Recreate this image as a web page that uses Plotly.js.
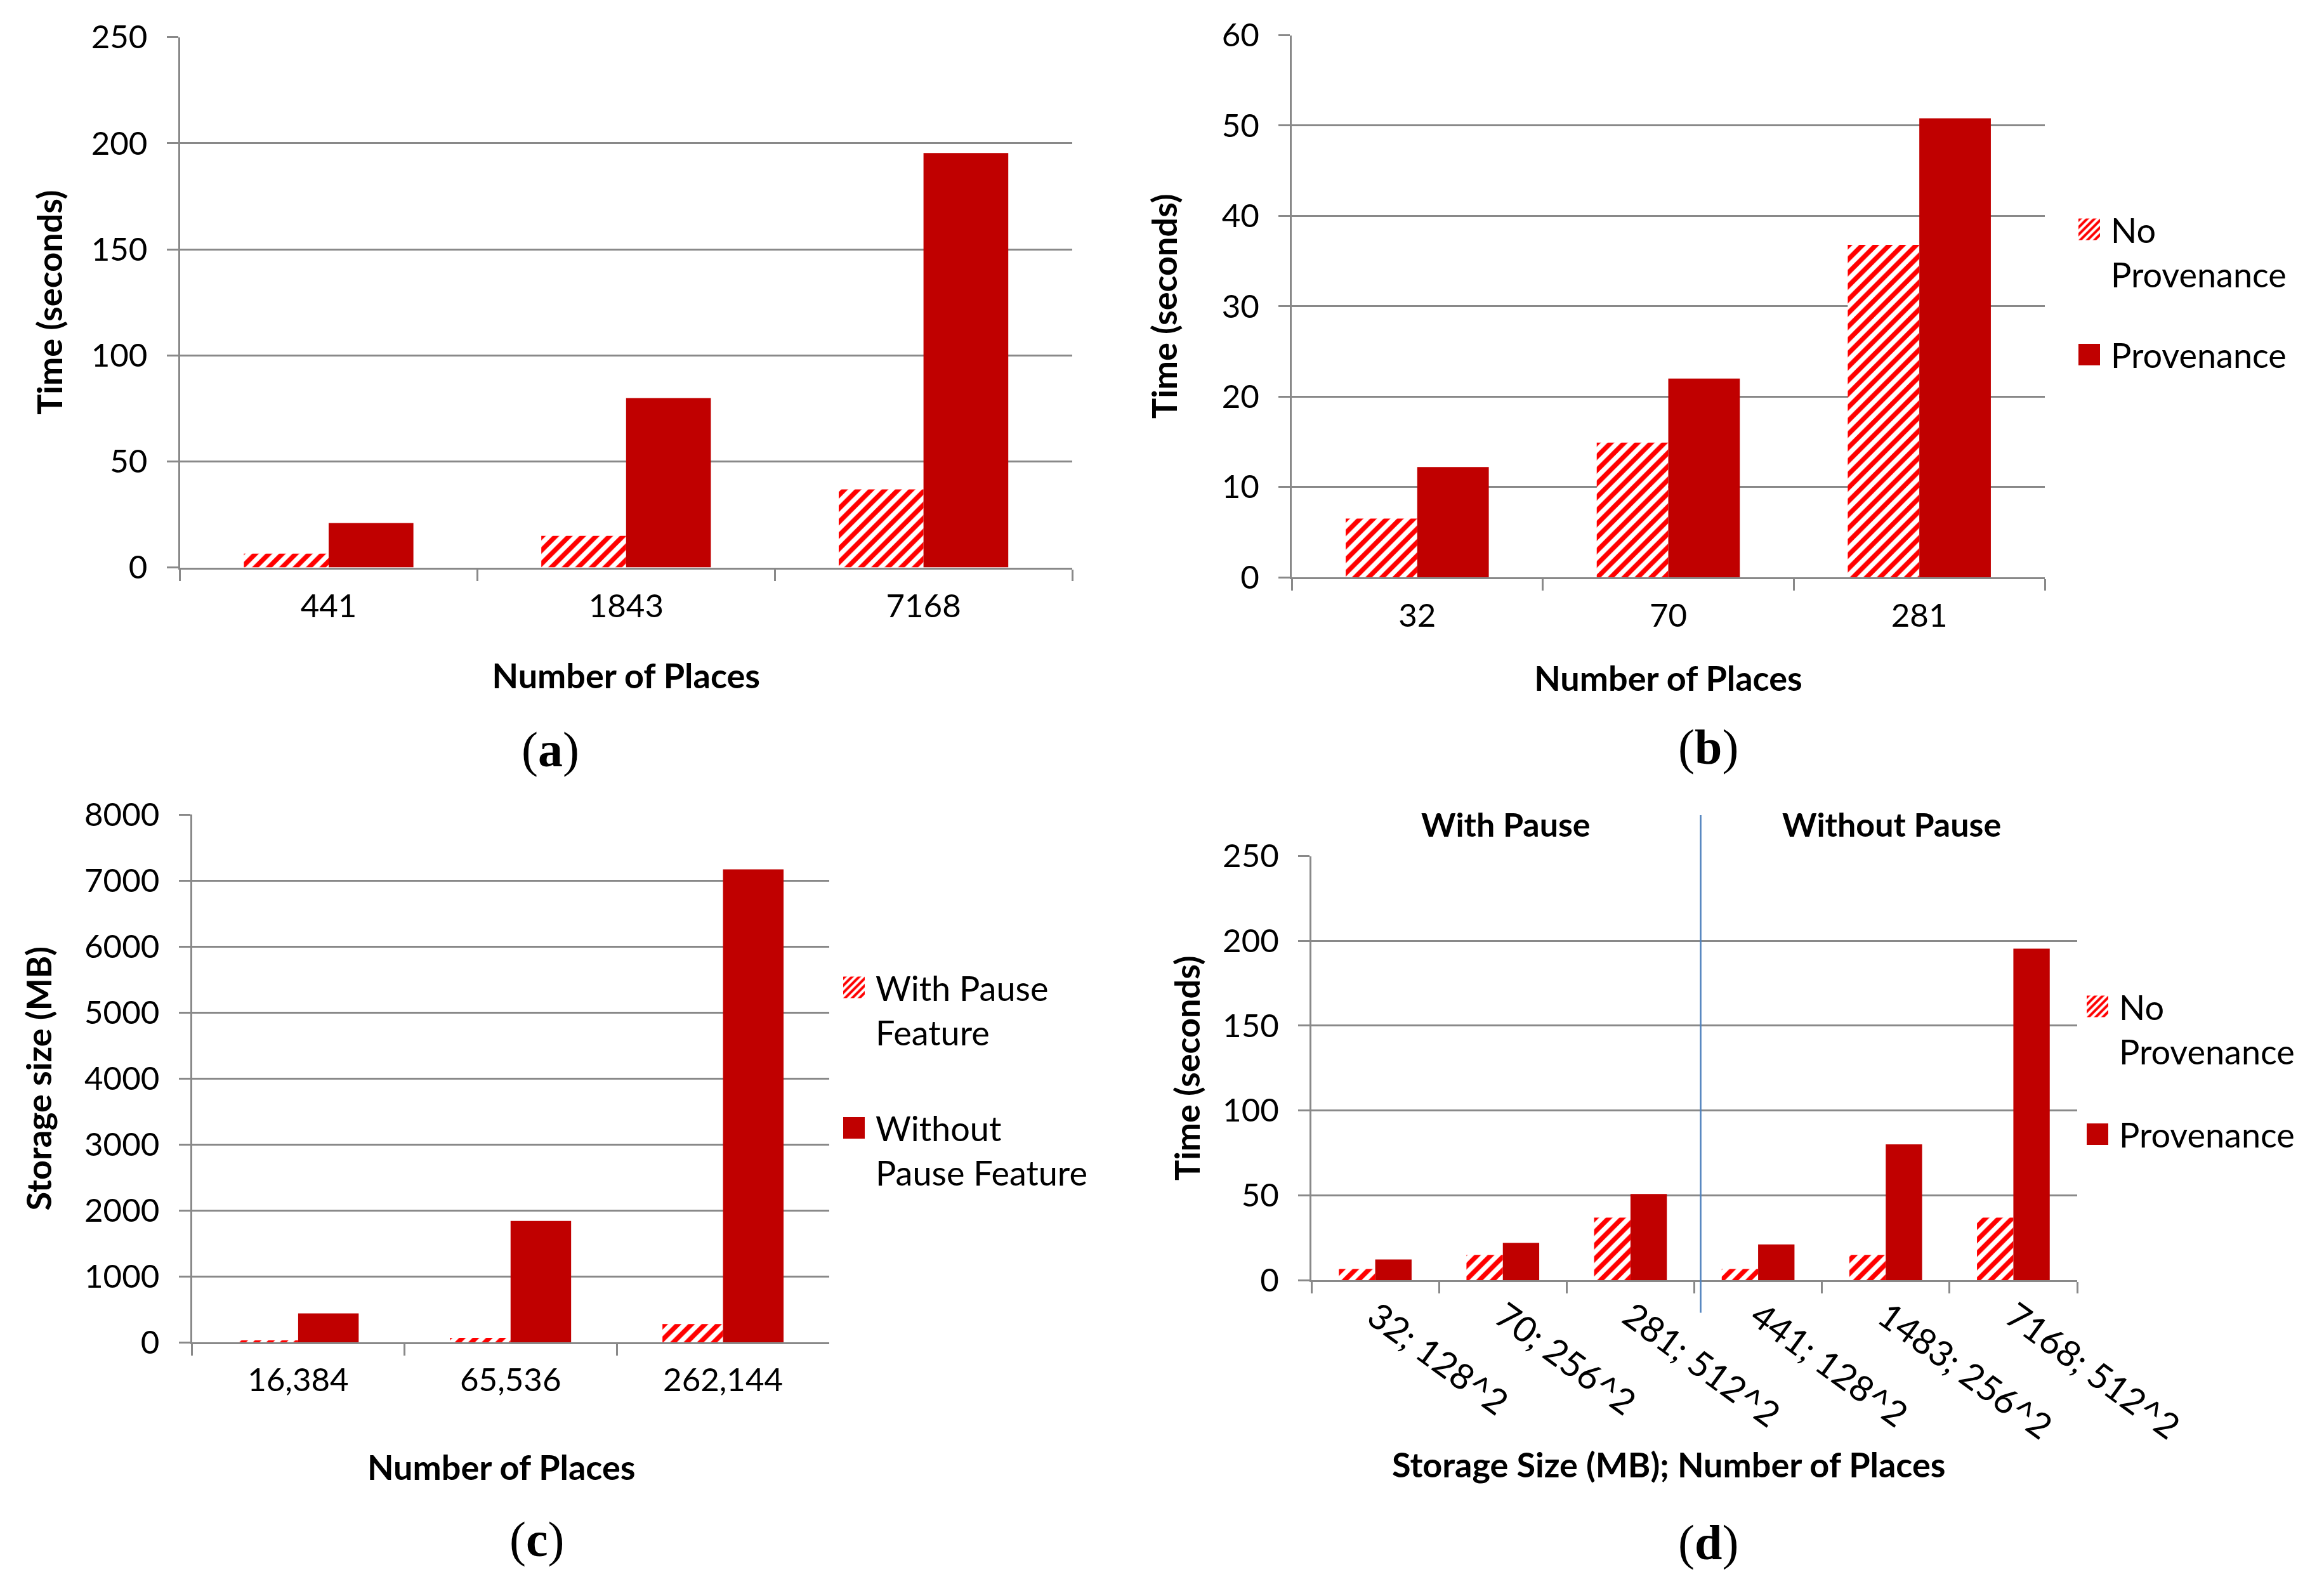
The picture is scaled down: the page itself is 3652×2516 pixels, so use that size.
<!DOCTYPE html>
<html>
<head>
<meta charset="utf-8">
<script src="https://cdn.plot.ly/plotly-3.0.1.min.js"></script>
<style>
  html, body { margin: 0; padding: 0; background: #ffffff; }
  #chart { width: 3652px; height: 2516px; }
  /* larger legend swatches, as in the reference */
  #chart .legendpoints path { d: path('M3,17H-31V-17H3Z') !important; }
  #chart .infolayer g, #chart .infolayer g * { clip-path: none !important; }
</style>
</head>
<body>
<div id="chart"></div>
<script>
// ---------------- DATA ----------------
// (a) time vs number of places
const catsA = ['441', '1843', '7168'];
const noProvA = [6.5, 14.9, 36.8];
const provA = [21.0, 79.9, 195.4];

// (b) time vs number of places
const catsB = ['32', '70', '281'];
const noProvB = [6.5, 14.9, 36.8];
const provB = [12.2, 22.0, 50.8];

// (c) storage size vs number of places
const catsC = ['16,384', '65,536', '262,144'];
const withPauseC = [32, 70, 281];
const withoutPauseC = [441, 1843, 7168];

// (d) time vs storage size; number of places
const catsD = ['32; 128^2', '70; 256^2', '281; 512^2', '441; 128^2', '1483; 256^2', '7168; 512^2'];
const noProvD = [6.5, 14.9, 36.8, 6.5, 14.9, 36.8];
const provD = [12.2, 22.0, 50.8, 21.0, 80.0, 195.4];

const seriesNames = {
  noProv: 'No<br>Provenance',
  prov: 'Provenance',
  withPause: 'With Pause<br>Feature',
  withoutPause: 'Without<br>Pause Feature'
};
const yTitles = ['Time (seconds)', 'Time (seconds)', 'Storage size (MB)', 'Time (seconds)'];
const xTitles = ['Number of Places', 'Number of Places', 'Number of Places', 'Storage Size (MB); Number of Places'];
const captions = ['a', 'b', 'c', 'd'];
const groupLabels = ['With Pause', 'Without Pause'];

// ---------------- STYLE ----------------
const W = 3652, H = 2516;
const px = v => v / W;
const py = v => 1 - v / H;
const FONT = 'Lato, "Open Sans", sans-serif';
const SERIF = '"Liberation Serif", "DejaVu Serif", serif';
const GRID = '#898989';
const DARK = '#C00000';
const HATCH_FG = '#FF0000';

function hatched(x, y, name, xa, ya, legend, group, show) {
  return {
    type: 'bar', x: x, y: y, name: name, xaxis: xa, yaxis: ya,
    legend: legend, legendgroup: group, showlegend: show,
    marker: {
      color: '#ffffff',
      line: { width: 0 },
      pattern: { shape: '/', fgcolor: HATCH_FG, bgcolor: '#ffffff', fgopacity: 1, size: 15, solidity: 0.5 }
    },
    hoverinfo: 'x+y'
  };
}
function solid(x, y, name, xa, ya, legend, group, show) {
  return {
    type: 'bar', x: x, y: y, name: name, xaxis: xa, yaxis: ya,
    legend: legend, legendgroup: group, showlegend: show,
    marker: { color: DARK, line: { width: 0 } },
    hoverinfo: 'x+y'
  };
}

const data = [
  hatched(catsA, noProvA, 'No Provenance', 'x', 'y', 'legend', 'a1', false),
  solid(catsA, provA, 'Provenance', 'x', 'y', 'legend', 'a2', false),
  hatched(catsB, noProvB, seriesNames.noProv, 'x2', 'y2', 'legend', 'b1', true),
  solid(catsB, provB, seriesNames.prov, 'x2', 'y2', 'legend', 'b2', true),
  hatched(catsC, withPauseC, seriesNames.withPause, 'x3', 'y3', 'legend2', 'c1', true),
  solid(catsC, withoutPauseC, seriesNames.withoutPause, 'x3', 'y3', 'legend2', 'c2', true),
  hatched(catsD, noProvD, seriesNames.noProv, 'x4', 'y4', 'legend3', 'd1', true),
  solid(catsD, provD, seriesNames.prov, 'x4', 'y4', 'legend3', 'd2', true)
];

function xAxis(domain, anchor, title, standoff, labelOff, extra) {
  return Object.assign({
    domain: domain, anchor: anchor, type: 'category',
    tickson: 'boundaries', ticks: 'outside', ticklen: 18, tickwidth: 3, tickcolor: GRID,
    showline: true, linecolor: GRID, linewidth: 3, showgrid: false, zeroline: false,
    ticklabelstandoff: labelOff,
    tickfont: { family: FONT, size: 51, color: '#000000' },
    title: { text: title, standoff: standoff, font: { family: FONT, size: 54, color: '#000000', weight: 'bold' } },
    fixedrange: true
  }, extra || {});
}
function yAxis(domain, anchor, range, dtick, title, standoff) {
  return {
    domain: domain, anchor: anchor, range: range, dtick: dtick, tick0: 0, tickformat: 'd',
    ticks: 'outside', ticklen: 18, tickwidth: 3, tickcolor: GRID,
    showline: true, linecolor: GRID, linewidth: 3,
    showgrid: true, gridcolor: GRID, gridwidth: 3, zeroline: false,
    ticklabelstandoff: 20,
    tickfont: { family: FONT, size: 51, color: '#000000' },
    title: { text: title, standoff: standoff, font: { family: FONT, size: 54, color: '#000000', weight: 'bold' } },
    fixedrange: true
  };
}

const legendBase = {
  font: { family: FONT, size: 54, color: '#000000' },
  bgcolor: 'rgba(0,0,0,0)', borderwidth: 0,
  valign: 'top', traceorder: 'grouped',
  xanchor: 'left', yanchor: 'top'
};

const titleFont = { family: FONT, size: 54, color: '#000', weight: 'bold' };
const capFont = { family: SERIF, size: 78, color: '#000' };

const layout = {
  width: W, height: H,
  margin: { l: 0, r: 0, t: 0, b: 0 },
  paper_bgcolor: '#ffffff', plot_bgcolor: '#ffffff',
  barmode: 'group', bargap: 0.43, bargroupgap: 0,
  font: { family: FONT, color: '#000000' },
  hovermode: false,

  xaxis:  xAxis([px(283.6), px(1690)], 'y', xTitles[0], 65, 14),
  yaxis:  yAxis([py(894.6), py(58.6)], 'x', [0, 250], 50, yTitles[0], 28),
  xaxis2: xAxis([px(2036), px(3223)], 'y2', xTitles[1], 53, 14),
  yaxis2: yAxis([py(910), py(55.5)], 'x2', [0, 60], 10, yTitles[1], 53),
  xaxis3: xAxis([px(302.5), px(1307)], 'y3', '', 0, 12),
  yaxis3: yAxis([py(2116.4), py(1284)], 'x3', [0, 8000], 1000, yTitles[2], 35),
  xaxis4: xAxis([px(2067), px(3274)], 'y4', '', 0, 0,
                { tickangle: 36, tickfont: { family: FONT, size: 56, color: '#000000' } }),
  yaxis4: yAxis([py(2018), py(1349.5)], 'x4', [0, 250], 50, yTitles[3], 19),

  legend:  Object.assign({}, legendBase, { x: px(3287), y: py(320), tracegroupgap: 54 }),
  legend2: Object.assign({}, legendBase, { x: px(1340), y: py(1515), tracegroupgap: 78 }),
  legend3: Object.assign({}, legendBase, { x: px(3300), y: py(1545), tracegroupgap: 58 }),

  shapes: [
    { type: 'line', xref: 'x4', yref: 'paper', x0: 2.55, x1: 2.55, y0: py(2069.5), y1: py(1285),
      line: { color: '#4F81BD', width: 2.5 } }
  ],

  annotations: [
    // x-axis titles for (c) and (d), placed where the reference puts them
    { xref: 'paper', yref: 'paper', x: px(790), y: py(2312), xanchor: 'center', yanchor: 'middle', showarrow: false,
      text: xTitles[2], font: titleFont },
    { xref: 'paper', yref: 'paper', x: px(2630), y: py(2308), xanchor: 'center', yanchor: 'middle', showarrow: false,
      text: xTitles[3], font: titleFont },
    // panel captions
    { xref: 'paper', yref: 'paper', x: px(867), y: py(1181), xanchor: 'center', yanchor: 'middle', showarrow: false,
      text: '(<b>' + captions[0] + '</b>)', font: capFont },
    { xref: 'paper', yref: 'paper', x: px(2692), y: py(1177), xanchor: 'center', yanchor: 'middle', showarrow: false,
      text: '(<b>' + captions[1] + '</b>)', font: capFont },
    { xref: 'paper', yref: 'paper', x: px(846), y: py(2426), xanchor: 'center', yanchor: 'middle', showarrow: false,
      text: '(<b>' + captions[2] + '</b>)', font: capFont },
    { xref: 'paper', yref: 'paper', x: px(2692), y: py(2431), xanchor: 'center', yanchor: 'middle', showarrow: false,
      text: '(<b>' + captions[3] + '</b>)', font: capFont },
    // group labels in (d)
    { xref: 'paper', yref: 'paper', x: px(2373), y: py(1299), xanchor: 'center', yanchor: 'middle', showarrow: false,
      text: groupLabels[0], font: { family: FONT, size: 52, color: '#000', weight: 'bold' } },
    { xref: 'paper', yref: 'paper', x: px(2981), y: py(1299), xanchor: 'center', yanchor: 'middle', showarrow: false,
      text: groupLabels[1], font: { family: FONT, size: 52, color: '#000', weight: 'bold' } }
  ]
};

Plotly.newPlot('chart', data, layout, { displayModeBar: false, staticPlot: true });
</script>
</body>
</html>
